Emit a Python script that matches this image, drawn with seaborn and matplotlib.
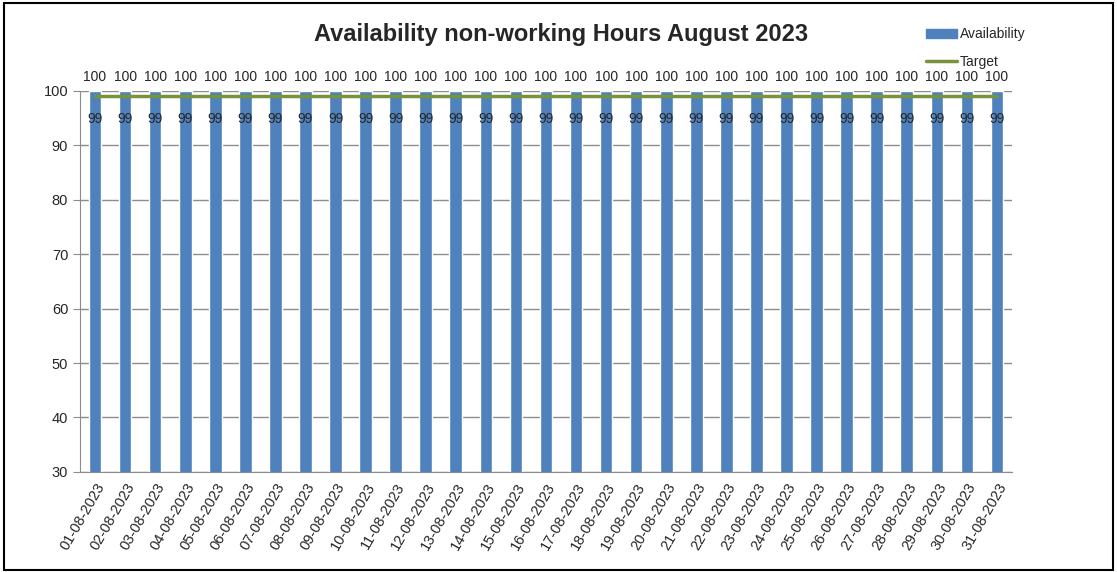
import matplotlib
matplotlib.use("Agg")
import matplotlib.pyplot as plt
import numpy as np
import pandas as pd
import seaborn as sns
from matplotlib.patches import Rectangle
from matplotlib.lines import Line2D

sns.set_style("white")
plt.rcParams['font.family'] = ['Liberation Sans', 'DejaVu Sans']

# data
DATES = [f"{d:02d}-08-2023" for d in range(1, 32)]
AVAILABILITY = [100] * 31
TARGET = [99] * 31

BAR_COLOR = "#4F81BD"
TARGET_COLOR = "#77933C"
GRID_COLOR = "#8C8C8C"

df = pd.DataFrame({"date": DATES, "availability": AVAILABILITY, "target": TARGET})

fig = plt.figure(figsize=(11.17, 5.72), dpi=100)
ax = fig.add_axes([0.0716, 0.175, 0.906 - 0.0716, 0.841 - 0.175])

sns.barplot(x="date", y="availability", data=df, color=BAR_COLOR, saturation=1,
            width=0.42, ax=ax, zorder=2)
x = np.arange(len(DATES))
ax.plot(x, df["target"], color=TARGET_COLOR, lw=2.5, zorder=3)

ax.set_ylim(30, 100)
ax.set_xlim(-0.5, len(DATES) - 0.5)
ax.set_yticks(range(30, 101, 10))
ax.set(xlabel="", ylabel="")
ax.yaxis.grid(True, color=GRID_COLOR, lw=1)
ax.set_axisbelow(True)

# value labels
for i, (a, t) in enumerate(zip(df["availability"], df["target"])):
    ax.annotate(str(a), (i, a), xytext=(0, 5), textcoords="offset points",
                ha="center", va="bottom", fontsize=10)
    ax.annotate(str(t), (i, t), xytext=(0, -11), textcoords="offset points",
                ha="center", va="top", fontsize=10)

for s in ["top", "right"]:
    ax.spines[s].set_visible(False)
for s in ["left", "bottom"]:
    ax.spines[s].set_color("#8C8C8C")

# ticks between categories on x
ax.set_xticks(x)
ax.set_xticklabels(DATES, rotation=60, ha="right", rotation_mode="anchor", fontsize=10.5)
ax.set_xticks(np.arange(-0.5, len(DATES)), minor=True)
ax.tick_params(axis="x", which="major", length=0, pad=6)
ax.tick_params(axis="x", which="minor", length=5, color="#8C8C8C", direction="out")
ax.tick_params(axis="y", length=5, color="#8C8C8C", direction="out", labelsize=10.5, left=True)

fig.text(0.502, 0.94, "Availability non-working Hours August 2023",
         ha="center", va="center", fontsize=17, fontweight="bold")

handles = [Rectangle((0, 0), 1, 1, color=BAR_COLOR),
           Line2D([0], [0], color=TARGET_COLOR, lw=2.5)]
fig.legend(handles, ["Availability", "Target"], loc="upper left",
           bbox_to_anchor=(0.818, 0.974), frameon=False, fontsize=10,
           handlelength=2.2, handletextpad=0.2, labelspacing=1.0)

# outer frame
fig.add_artist(Rectangle((0.004, 0.004), 0.992, 0.99, transform=fig.transFigure,
                         fill=False, edgecolor="black", lw=1.5))

fig.savefig("out.png", dpi=100)
